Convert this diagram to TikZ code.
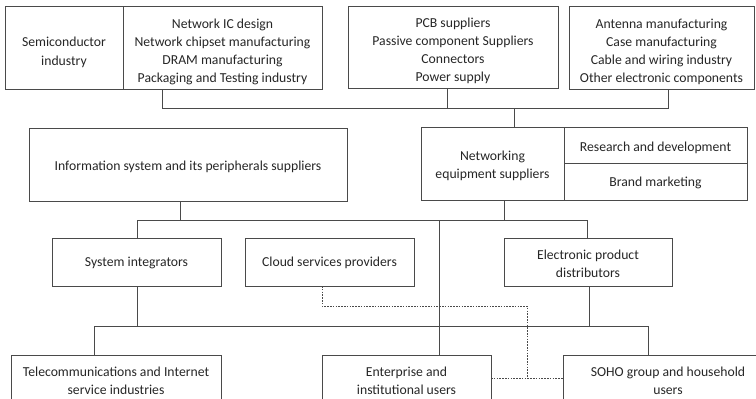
\documentclass[tikz,border=0pt]{standalone}
\usepackage{fontspec}
\setmainfont{Carlito}
\begin{document}
\begin{tikzpicture}[x=1pt,y=-1pt,
  box/.style={draw=linec, line width=0.8pt, anchor=north west, inner sep=0pt, outer sep=0pt},
  txt/.style={align=center, text=textc, inner sep=0pt, font=\fontsize{13.7}{18}\selectfont},
  conn/.style={draw=linec, line width=0.8pt},
  dconn/.style={draw=linec, line width=0.8pt, dash pattern=on 1.6pt off 1.2pt}]
\definecolor{linec}{HTML}{4A4A4A}
\definecolor{textc}{HTML}{262626}
\useasboundingbox (0,0) rectangle (756,399);
\clip (0,0) rectangle (756,399);
% top row
\node[box, minimum width=118pt, minimum height=83pt, label={[txt,yshift=-5pt,font=\fontsize{13.7}{19}\selectfont]center:{Semiconductor\\industry}}] (semi) at (5,6) {};
\node[box, minimum width=199pt, minimum height=83pt, label={[txt,yshift=-4pt]center:{Network IC design\\Network chipset manufacturing\\DRAM manufacturing\\Packaging and Testing industry}}] (netic) at (123,6) {};
\node[box, minimum width=210pt, minimum height=82pt, label={[txt,yshift=-4pt]center:{PCB suppliers\\Passive component Suppliers\\Connectors\\Power supply}}] (pcb) at (348,6) {};
\node[box, minimum width=185pt, minimum height=83pt, label={[txt,yshift=-4pt]center:{Antenna manufacturing\\Case manufacturing\\Cable and wiring industry\\Other electronic components}}] (ant) at (569,6) {};
% second row
\node[box, minimum width=318pt, minimum height=73pt, label={[txt,yshift=-2pt]center:{Information system and its peripherals suppliers}}] (info) at (29,128) {};
\node[box, minimum width=143pt, minimum height=73pt, label={[txt,yshift=-2pt]center:{Networking\\equipment suppliers}}] (netw) at (421,127) {};
\node[box, minimum width=183pt, minimum height=36pt, label={[txt,yshift=-2.5pt]center:{Research and development}}] (rd) at (564,127) {};
\node[box, minimum width=183pt, minimum height=37pt, label={[txt,yshift=-1pt]center:{Brand marketing}}] (brand) at (564,163) {};
% third row
\node[box, minimum width=169pt, minimum height=48pt, label={[txt,yshift=-1pt]center:{System integrators}}] (sysint) at (52,238) {};
\node[box, minimum width=169pt, minimum height=48pt, label={[txt,yshift=-1pt]center:{Cloud services providers}}] (cloud) at (245,238) {};
\node[box, minimum width=168pt, minimum height=48pt, label={[txt,yshift=-2pt]center:{Electronic product\\distributors}}] (elec) at (504,238) {};
% bottom row
\node[box, minimum width=210pt, minimum height=50pt, label={[txt,yshift=-0.5pt]center:{Telecommunications and Internet\\service industries}}] (tele) at (11,355) {};
\node[box, minimum width=169pt, minimum height=50pt, label={[txt,yshift=-0.5pt]center:{Enterprise and\\institutional users}}] (ent) at (322,355) {};
\node[box, minimum width=210pt, minimum height=50pt, label={[txt,yshift=-0.5pt]center:{SOHO group and household\\users}}] (soho) at (563,355) {};
% bus coordinates
\coordinate (b1l) at (162,108);
\coordinate (b1r) at (668,108);
\coordinate (b1p) at (447,108);
\coordinate (b1n) at (514,108);
\coordinate (b2i) at (180,220);
\coordinate (b2l) at (137,220);
\coordinate (b2r) at (587,220);
\coordinate (b2n) at (504,220);
\coordinate (b2e) at (439,220);
\coordinate (b3s) at (137,326);
\coordinate (b3l) at (94,326);
\coordinate (b3r) at (648,326);
\coordinate (b3e) at (589,326);
\coordinate (d1) at (322,306);
\coordinate (d2) at (527,306);
\coordinate (d3) at (527,378);
% connectors top
\draw[conn] (b1l |- netic.south) -- (b1l) -- (b1r) -- (b1r |- ant.south);
\draw[conn] (b1p |- pcb.south) -- (b1p);
\draw[conn] (b1n) -- (b1n |- netw.north);
% connectors middle
\draw[conn] (b2i |- info.south) -- (b2i);
\draw[conn] (b2l |- sysint.north) -- (b2l) -- (b2r) -- (b2r |- elec.north);
\draw[conn] (b2n |- netw.south) -- (b2n);
\draw[conn] (b2e) -- (b2e |- ent.north);
% connectors bottom
\draw[conn] (b3s |- sysint.south) -- (b3s);
\draw[conn] (b3l |- tele.north) -- (b3l) -- (b3r) -- (b3r |- soho.north);
\draw[conn] (b3e |- elec.south) -- (b3e);
% dashed
\draw[dconn] (d1 |- cloud.south) -- (d1) -- (d2) -- (d3);
\draw[dconn] (ent.east |- d3) -- (soho.west |- d3);
\end{tikzpicture}
\end{document}
